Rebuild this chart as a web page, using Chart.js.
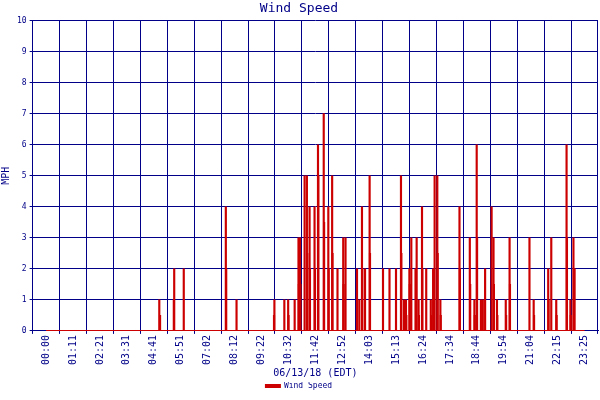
<!DOCTYPE html>
<html><head><meta charset="utf-8">
<script src="https://cdn.jsdelivr.net/npm/chart.js@4/dist/chart.umd.min.js"></script>
<style>html,body{margin:0;padding:0;background:#fff}#w{width:600px;height:400px}</style>
</head><body><div id="w"><canvas id="c"></canvas></div>
<script>
const tickLabels=["00:00","01:11","02:21","03:31","04:41","05:51","07:02","08:12","09:22","10:32","11:42","12:52","14:03","15:13","16:24","17:34","18:44","19:54","21:04","22:15","23:25"];
const tickStepMin=70.4;
const times=[296,298,334,335,360,470,471,498,596,597,623,633,634,650,660,661,664,665,676,682,683,689,690,702,703,711,712,726,727,738,739,748,749,762,777,778,783,813,819,826,827,834,846,847,881,898,915,928,929,936,941,942,950,951,955,966,969,974,975,983,984,994,1006,1007,1012,1016,1023,1024,1031,1032,1081,1082,1108,1109,1120,1121,1126,1127,1137,1142,1148,1165,1170,1171,1179,1180,1202,1203,1212,1213,1264,1275,1276,1313,1314,1321,1334,1335,1361,1362,1371,1372,1379,1380,1382];
const speeds=[1,0.5,1,2,2,4,2,1,0.5,1,1,1,0.5,1,3,1.5,3,1.5,5,5,2.5,4,2,4,2,6,5,7,3.5,4,2,5,2.5,2,3,1.5,3,2,1,4,2,2,5,2.5,2,2,2,5,2.5,1,1,0.5,2,1.5,3,2,3,1,0.5,4,2,2,1,0.5,2,5,5,2.5,1,0.5,4,2,3,1.5,1,0.5,6,3,1,1,2,4,3,1.5,1,0.5,1,0.5,3,1.5,3,1,0.5,2,1,3,1,0.5,6,3,1,0.5,3,2,2];
const xMax=1408;
const navy="#000088",red="#cc0000";
const pts=times.map((t,i)=>({x:t,y:speeds[i]}));
const font={family:"DejaVu Sans Mono",size:8};
new Chart(document.getElementById('c'),{
 data:{datasets:[
  {type:'bar',label:'bars',data:pts,backgroundColor:red,barThickness:1.5,grouped:false},
  {type:'line',label:'Wind Speed',data:[{x:0,y:0},{x:xMax,y:0}],borderColor:red,backgroundColor:red,borderWidth:2,pointRadius:0}
 ]},
 options:{animation:false,responsive:true,maintainAspectRatio:false,devicePixelRatio:1,
  layout:{padding:{left:0,right:2,top:0,bottom:0}},
  plugins:{
   title:{display:true,text:'Wind Speed',color:navy,font:{family:"DejaVu Sans Mono",size:13,weight:'normal'},padding:{top:1,bottom:4}},
   legend:{position:'bottom',labels:{filter:i=>i.text==='Wind Speed',boxWidth:14,boxHeight:2,color:navy,font:font,padding:0}},
   tooltip:{enabled:false}},
  scales:{
   x:{type:'linear',min:0,max:xMax,
    afterBuildTicks:s=>{s.ticks=tickLabels.map((l,i)=>({value:i*tickStepMin}));},
    ticks:{autoSkip:false,maxRotation:90,minRotation:90,color:navy,font:{family:"DejaVu Sans Mono",size:10},padding:1,callback:(v,i)=>tickLabels[i]},
    grid:{color:navy,lineWidth:1,tickLength:3},border:{color:navy},
    title:{display:true,text:'06/13/18 (EDT)',color:navy,font:{family:"DejaVu Sans Mono",size:10},padding:{top:1,bottom:3}}},
   y:{min:0,max:10,ticks:{stepSize:1,color:navy,font:font,padding:3},
    grid:{color:navy,lineWidth:1,tickLength:3},border:{color:navy},
    title:{display:true,text:'MPH',color:navy,font:{family:"DejaVu Sans Mono",size:10},padding:{top:0,bottom:2}}}
  }}
});
</script></body></html>
